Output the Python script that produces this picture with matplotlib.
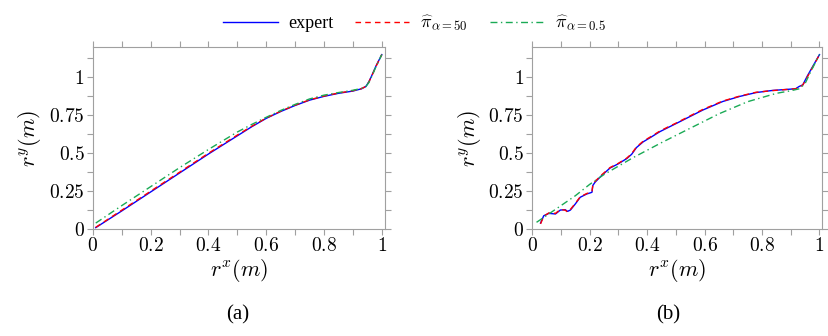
import matplotlib
matplotlib.use("Agg")
import matplotlib.pyplot as plt
from matplotlib.ticker import MultipleLocator, FixedFormatter, FixedLocator

plt.rcParams['font.family'] = ['Liberation Serif', 'DejaVu Serif']
plt.rcParams['mathtext.fontset'] = 'cm'

# (a) smooth trajectory
xa = [0.01, 0.1, 0.2, 0.3, 0.4, 0.5, 0.55, 0.6, 0.65, 0.7, 0.75, 0.8, 0.85,
      0.9, 0.93, 0.945, 0.955, 0.965, 0.98, 1.0]
ya_expert = [0.01, 0.12, 0.245, 0.37, 0.495, 0.615, 0.675, 0.73, 0.775, 0.815,
             0.85, 0.875, 0.895, 0.91, 0.925, 0.94, 0.97, 1.01, 1.075, 1.15]
ya_a50 = [0.012, 0.125, 0.25, 0.375, 0.5, 0.62, 0.678, 0.732, 0.777, 0.817,
          0.852, 0.877, 0.897, 0.912, 0.926, 0.941, 0.968, 1.008, 1.073, 1.15]
ya_a05 = [0.04, 0.155, 0.28, 0.405, 0.525, 0.64, 0.69, 0.737, 0.782, 0.822,
          0.858, 0.883, 0.9, 0.915, 0.928, 0.94, 0.965, 1.005, 1.07, 1.15]

# (b) noisy trajectory
xb = [0.029, 0.04, 0.058, 0.081, 0.098, 0.115, 0.123, 0.133, 0.15, 0.167,
      0.19, 0.202, 0.208, 0.211, 0.219, 0.242, 0.271, 0.30, 0.329, 0.346,
      0.363, 0.386, 0.415, 0.444, 0.467, 0.502, 0.548, 0.594, 0.663, 0.721,
      0.779, 0.836, 0.917, 0.929, 0.942, 0.957, 0.98, 1.0]
yb_expert = [0.04, 0.088, 0.104, 0.10, 0.126, 0.128, 0.117, 0.126, 0.166, 0.21,
             0.232, 0.239, 0.243, 0.288, 0.31, 0.354, 0.403, 0.431, 0.465, 0.493,
             0.538, 0.575, 0.608, 0.642, 0.664, 0.697, 0.741, 0.785, 0.841, 0.874,
             0.90, 0.914, 0.925, 0.94, 0.951, 1.007, 1.084, 1.15]
yb_a50 = [0.035, 0.085, 0.107, 0.104, 0.13, 0.125, 0.113, 0.13, 0.17, 0.213,
          0.235, 0.242, 0.25, 0.29, 0.315, 0.358, 0.406, 0.434, 0.468, 0.497,
          0.542, 0.579, 0.612, 0.646, 0.668, 0.70, 0.745, 0.789, 0.844, 0.876,
          0.902, 0.913, 0.925, 0.935, 0.95, 1.0, 1.08, 1.15]
xb_a05 = [0.015, 0.05, 0.1, 0.15, 0.2, 0.25, 0.35, 0.45, 0.55, 0.65, 0.75,
          0.85, 0.9, 0.93, 0.95, 0.97, 1.0]
yb_a05 = [0.045, 0.09, 0.155, 0.22, 0.295, 0.36, 0.47, 0.57, 0.665, 0.76, 0.84,
          0.895, 0.912, 0.925, 0.96, 1.04, 1.15]

x_ticks = [0, 0.2, 0.4, 0.6, 0.8, 1]
x_ticklabels = ['0', '0.2', '0.4', '0.6', '0.8', '1']
y_ticks = [0, 0.25, 0.5, 0.75, 1]
y_ticklabels = ['0', '0.25', '0.5', '0.75', '1']

fig = plt.figure(figsize=(8.29, 3.36), dpi=100)
ax1 = fig.add_axes([0.112, 0.318, 0.352, 0.542])
ax2 = fig.add_axes([0.642, 0.318, 0.350, 0.542])

gray = '#a0a0a0'
for ax in (ax1, ax2):
    ax.set_xlim(0, 1.01)
    ax.set_ylim(0, 1.2)
    ax.xaxis.set_major_locator(FixedLocator(x_ticks))
    ax.xaxis.set_major_formatter(FixedFormatter(['$%s$' % t for t in x_ticklabels]))
    ax.yaxis.set_major_locator(FixedLocator(y_ticks))
    ax.yaxis.set_major_formatter(FixedFormatter(['$%s$' % t for t in y_ticklabels]))
    ax.xaxis.set_minor_locator(MultipleLocator(0.1))
    ax.yaxis.set_minor_locator(MultipleLocator(0.125))
    ax.tick_params(which='both', direction='out', top=True, right=True,
                   length=4, width=0.8, color=gray, labelsize=14, pad=2)
    for s in ax.spines.values():
        s.set_color(gray)
        s.set_linewidth(0.8)
    ax.set_xlabel('$r^x(m)$', fontsize=16, labelpad=1)
    ax.set_ylabel('$r^y(m)$', fontsize=16, labelpad=4)

ax1.plot(xa, ya_expert, color='blue', lw=1.0, label='expert')
ax1.plot(xa, ya_a50, color='red', lw=1.0, ls=(0, (4, 3)), label=r'$\widehat{\pi}_{\alpha=50}$')
ax1.plot(xa, ya_a05, color='#1aaa55', lw=1.0, ls=(0, (5, 2.5, 1, 2.5)),
         label=r'$\widehat{\pi}_{\alpha=0.5}$')

ax2.plot(xb, yb_expert, color='blue', lw=1.0)
ax2.plot(xb, yb_a50, color='red', lw=1.0, ls=(0, (4, 3)))
ax2.plot(xb_a05, yb_a05, color='#1aaa55', lw=1.0, ls=(0, (5, 2.5, 1, 2.5)))

fig.legend(loc='center', bbox_to_anchor=(0.5, 0.93), ncol=3, frameon=False,
           fontsize=13, handlelength=3.0, columnspacing=1.2, handletextpad=0.6)

fig.text(0.287, 0.05, '(a)', ha='center', fontsize=15)
fig.text(0.806, 0.05, '(b)', ha='center', fontsize=15)

fig.savefig('out.png', dpi=100)
